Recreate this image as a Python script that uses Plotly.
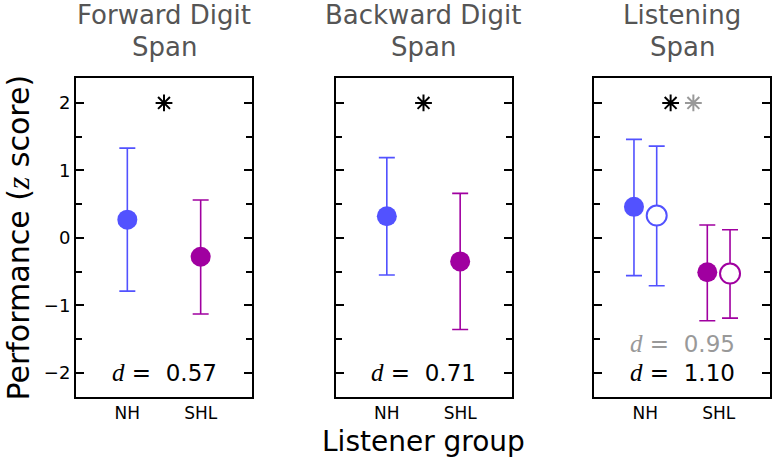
import plotly.graph_objects as go

groups = ["NH", "SHL"]

# forward digit span
fwd_mean = [0.27, -0.28]
fwd_hi = [1.33, 0.56]
fwd_lo = [-0.79, -1.13]

# backward digit span
bwd_mean = [0.32, -0.35]
bwd_hi = [1.19, 0.66]
bwd_lo = [-0.55, -1.36]

# listening span, filled and open symbols
lsp_mean = [0.46, -0.51]
lsp_hi = [1.46, 0.19]
lsp_lo = [-0.56, -1.23]
lsp2_mean = [0.33, -0.53]
lsp2_hi = [1.36, 0.12]
lsp2_lo = [-0.71, -1.19]

titles = [["Forward Digit", "Span"], ["Backward Digit", "Span"], ["Listening", "Span"]]
d_main = ["0.57", "0.71", "1.10"]
d_alt = "0.95"

W, H = 772, 461
FONT = "DejaVu Sans"
SERIF = "Liberation Serif"
BLUE = "#5252FF"
PURPLE = "#A000A0"
GRAY = "#999999"
colors = [BLUE, PURPLE]

domains = [[76 / W, 252 / W], [335.5 / W, 511.5 / W], [594 / W, 770 / W]]
ydom = [1 - 397 / H, 1 - 78 / H]
OFF = 0.155

fig = go.Figure()


def add_point(ax, x, mean, hi, lo, color, filled):
    fig.add_trace(go.Scatter(
        x=[x], y=[mean], mode="markers",
        xaxis="x" + ax, yaxis="y" + ax,
        marker=dict(size=20, color=color if filled else "white",
                    line=dict(color=color, width=0 if filled else 2)),
        error_y=dict(type="data", symmetric=False, array=[hi - mean],
                     arrayminus=[mean - lo], color=color, thickness=1.6, width=8),
        showlegend=False, hoverinfo="skip",
    ))


for i in range(2):
    add_point("", i, fwd_mean[i], fwd_hi[i], fwd_lo[i], colors[i], True)
    add_point("2", i, bwd_mean[i], bwd_hi[i], bwd_lo[i], colors[i], True)
    add_point("3", i - OFF, lsp_mean[i], lsp_hi[i], lsp_lo[i], colors[i], True)
    add_point("3", i + OFF, lsp2_mean[i], lsp2_hi[i], lsp2_lo[i], colors[i], False)

# significance asterisks
for ax, x, c in [("", 0.5, "black"), ("2", 0.5, "black"), ("3", 0.5 - OFF, "black"), ("3", 0.5 + OFF, GRAY)]:
    fig.add_trace(go.Scatter(
        x=[x], y=[2], mode="markers", xaxis="x" + ax, yaxis="y" + ax,
        marker=dict(symbol="asterisk-open", size=14, color=c, line=dict(color=c, width=2)),
        showlegend=False, hoverinfo="skip",
    ))


def serif_i(s, size=None):
    extra = f";font-size:{size}px" if size else ""
    return f"<span style='font-family:{SERIF}{extra}'><i>{s}</i></span>"


def d_text(val):
    return f"{serif_i('d', 25)} =  {val}"


annotations = []
for k, ax in enumerate(["", "2", "3"]):
    for j, line in enumerate(titles[k]):
        annotations.append(dict(
            x=sum(domains[k]) / 2, y=1 - (15 + 32 * j) / H, xref="paper", yref="paper",
            text=line, showarrow=False, xanchor="center", yanchor="middle",
            font=dict(family=FONT, size=26, color="#555555"),
        ))
    annotations.append(dict(
        x=0.5, y=-2, xref="x" + ax, yref="y" + ax,
        text=d_text(d_main[k]), showarrow=False,
        xanchor="center", yanchor="middle",
        font=dict(family=FONT, size=23, color="black"),
    ))
annotations.append(dict(
    x=0.5, y=-1.56, xref="x3", yref="y3",
    text=d_text(d_alt), showarrow=False,
    xanchor="center", yanchor="middle",
    font=dict(family=FONT, size=23, color=GRAY),
))
annotations.append(dict(
    x=18 / W, y=sum(ydom) / 2, xref="paper", yref="paper", textangle=-90,
    text=f"Performance ({serif_i('z', 32)} score)",
    showarrow=False, xanchor="center", yanchor="middle",
    font=dict(family=FONT, size=30, color="black"),
))
annotations.append(dict(
    x=sum(domains[1]) / 2, y=1 - 441 / H, xref="paper", yref="paper",
    text="Listener group", showarrow=False, xanchor="center", yanchor="middle",
    font=dict(family=FONT, size=28, color="black"),
))

layout = dict(
    width=W, height=H, margin=dict(l=0, r=0, t=0, b=0),
    paper_bgcolor="white", plot_bgcolor="white",
    annotations=annotations, showlegend=False,
)
for k, ax in enumerate(["", "2", "3"]):
    layout["xaxis" + ax] = dict(
        domain=domains[k], range=[-0.7, 1.7], anchor="y" + ax,
        tickvals=[0, 1], ticktext=groups, ticks="",
        showline=True, linecolor="black", linewidth=2, mirror=True,
        showgrid=False, zeroline=False, fixedrange=True,
        tickfont=dict(family=FONT, size=17, color="black"),
    )
    layout["yaxis" + ax] = dict(
        domain=ydom, range=[-2.36, 2.37], anchor="x" + ax,
        tickvals=[-2, -1, 0, 1, 2], ticktext=["\u22122", "\u22121", "0", "1", "2"],
        ticks="inside", ticklen=8, tickwidth=1.5, tickcolor="black",
        minor=dict(dtick=0.5, ticks="inside", ticklen=6, tickwidth=1.5, tickcolor="black"),
        showticklabels=(k == 0),
        showline=True, linecolor="black", linewidth=2, mirror="ticks",
        showgrid=False, zeroline=False, fixedrange=True,
        tickfont=dict(family=FONT, size=18, color="black"),
    )
fig.update_layout(**layout)

# the page's default body margin would push the figure 8px right and down
fig.write_html("out.html", config={"displayModeBar": False},
               post_script="document.body.style.margin='0px';")
